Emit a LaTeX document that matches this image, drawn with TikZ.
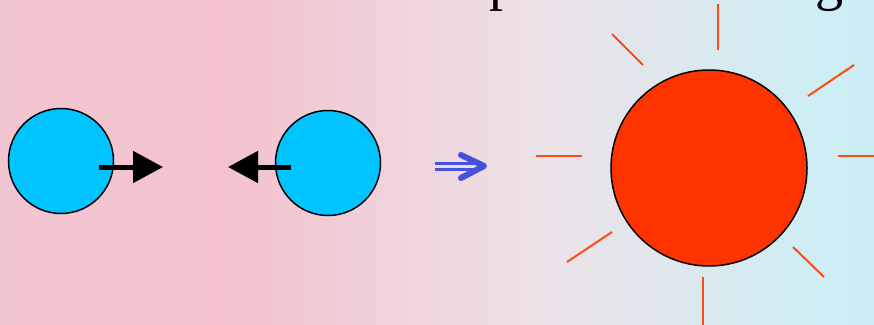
\documentclass[tikz,border=0pt]{standalone}
\usepackage{fontspec}
\setmainfont{Liberation Serif}
\usetikzlibrary{arrows.meta}

\definecolor{ballblue}{HTML}{00C4FF}
\definecolor{sunred}{HTML}{FF3300}
\definecolor{rayred}{HTML}{FF4A12}
\definecolor{arrblue}{HTML}{4452DC}
\definecolor{bgA}{HTML}{EFCDD8}
\definecolor{bgB}{HTML}{F3C2CD}
\definecolor{bgC}{HTML}{EDE2E8}
\definecolor{bgD}{HTML}{CDEEF4}
\definecolor{bgE}{HTML}{B2E8F1}
\pgfdeclarehorizontalshading{photo}{100bp}{color(0bp)=(bgA); color(38bp)=(bgB); color(56bp)=(bgC); color(72bp)=(bgD); color(100bp)=(bgE)}

\begin{document}
\begin{tikzpicture}[x=1pt, y=-1pt,
    ball/.style={circle, draw=black, line width=1.5pt, fill=ballblue, minimum size=105pt, inner sep=0pt},
    sun/.style={circle, draw=black, line width=1.5pt, fill=sunred, minimum size=196pt, inner sep=0pt},
    push/.style={line width=5pt, -{Triangle[length=30pt, width=31pt]}},
    ray/.style={rayred, line width=2pt},
    frag/.style={anchor=base west, inner sep=0pt, font=\fontsize{56}{60}\selectfont}
]

    \useasboundingbox (0,0) rectangle (874,324);
    \clip (0,0) rectangle (874,324);
    \shade[shading=photo] (0,0) rectangle (874,324);

    % text cut off at the top edge
    \node[frag] (wordP) at (489,0) {p};
    \node[frag] (wordG) at (815,0) {g};

    % two colliding balls
    \node[ball] (ballL) at (61,161) {};
    \node[ball] (ballR) at (328,163) {};

    \coordinate (tailL) at (99,167);
    \coordinate (tipL) at (163,167);
    \coordinate (tailR) at (291,167);
    \coordinate (tipR) at (228,167);

    \draw[push] (tailL) -- (tipL);
    \draw[push] (tailR) -- (tipR);

    % result arrow
    \coordinate (fromA) at (435,166);
    \coordinate (toA) at (479,166);
    \draw[arrblue, line width=3pt] ([yshift=3pt]fromA) -- ([yshift=3pt]toA);
    \draw[arrblue, line width=3pt] ([yshift=-3pt]fromA) -- ([yshift=-3pt]toA);
    \draw[arrblue, line width=6pt, line cap=round, line join=round]
        (461,155) -- (484,166) -- (461,178);

    % the sun
    \foreach \xa/\ya/\xb/\yb in {718/4/718/50, 612/34/643/65, 854/65/808/96,
        536/156/582/156, 838/156/880/156, 612/232/567/262, 793/247/824/277, 703/277/703/330}
        \draw[ray] (\xa,\ya) -- (\xb,\yb);
    \node[sun] (sun) at (709,168) {};

\end{tikzpicture}
\end{document}
